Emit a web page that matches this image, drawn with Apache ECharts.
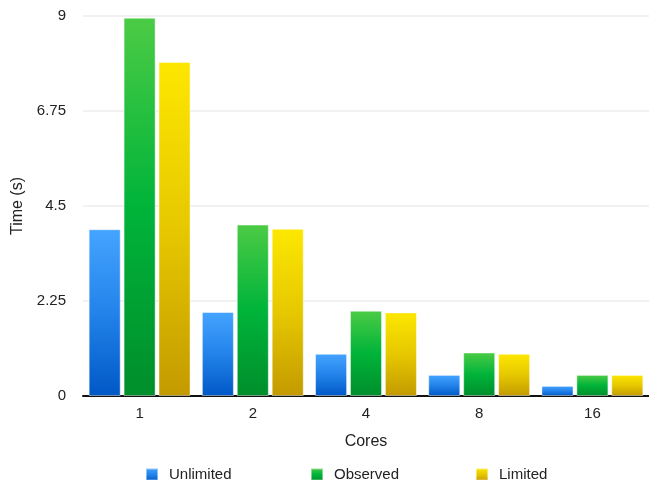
<!DOCTYPE html>
<html>
<head>
<meta charset="utf-8">
<script src="https://cdn.jsdelivr.net/npm/echarts@6/dist/echarts.min.js"></script>
<style>html,body{margin:0;padding:0;background:#fff}#c{width:649px;height:480px}</style>
</head>
<body>
<div id="c"></div>
<script>
const categories = ['1', '2', '4', '8', '16'];
const seriesNames = ['Unlimited', 'Observed', 'Limited'];
const unlimited = [3.95, 1.99, 1.0, 0.5, 0.24];
const observed = [8.96, 4.06, 2.02, 1.03, 0.5];
const limited = [7.91, 3.96, 1.98, 1.0, 0.5];
const yTicks = [0, 2.25, 4.5, 6.75, 9];

const FONT = '"Liberation Sans", Arial, Helvetica, sans-serif';
function grad(top, mid, bottom) {
  return new echarts.graphic.LinearGradient(0, 0, 0, 1, [
    {offset: 0, color: top}, {offset: 0.5, color: mid}, {offset: 1, color: bottom}
  ]);
}
const colors = [
  grad('#45a4ff', '#2383ea', '#0058c6'),
  grad('#4ccb45', '#00b43a', '#008e2b'),
  grad('#fde700', '#e6c800', '#c39a00')
];
const values = [unlimited, observed, limited];
const legendLefts = [145, 310, 475];

const chart = echarts.init(document.getElementById('c'), null, {renderer: 'canvas'});
chart.setOption({
  animation: false,
  textStyle: {fontFamily: FONT},
  grid: {left: 83, right: 0, top: 16, bottom: 84},
  legend: seriesNames.map((n, i) => ({
    data: [n], left: legendLefts[i], top: 467, padding: 0, icon: 'rect',
    itemWidth: 12, itemHeight: 12, itemGap: 0,
    textStyle: {fontSize: 15, color: '#222', fontFamily: FONT, padding: [0, 0, 0, 6]}
  })),
  xAxis: {
    type: 'category', data: categories,
    name: 'Cores', nameLocation: 'middle', nameGap: 38,
    nameTextStyle: {fontSize: 16, color: '#222', fontFamily: FONT},
    axisLine: {lineStyle: {color: '#111', width: 2}},
    axisTick: {show: false},
    axisLabel: {fontSize: 15, color: '#222', margin: 10, fontFamily: FONT}
  },
  yAxis: {
    type: 'value', min: yTicks[0], max: yTicks[yTicks.length - 1], interval: yTicks[1] - yTicks[0],
    name: 'Time (s)', nameLocation: 'middle', nameGap: 56,
    nameTextStyle: {fontSize: 16, color: '#222', fontFamily: FONT},
    axisLine: {show: false}, axisTick: {show: false},
    axisLabel: {fontSize: 15, color: '#222', margin: 17, fontFamily: FONT,
      formatter: v => String(v)},
    splitLine: {lineStyle: {color: '#ececec', width: 1.5}}
  },
  series: seriesNames.map((n, i) => ({
    name: n, type: 'bar', data: values[i],
    barCategoryGap: '10%', barGap: '9%',
    itemStyle: {color: colors[i], borderColor: 'rgba(255,255,255,0.45)', borderWidth: 1}
  }))
});
</script>
</body>
</html>
